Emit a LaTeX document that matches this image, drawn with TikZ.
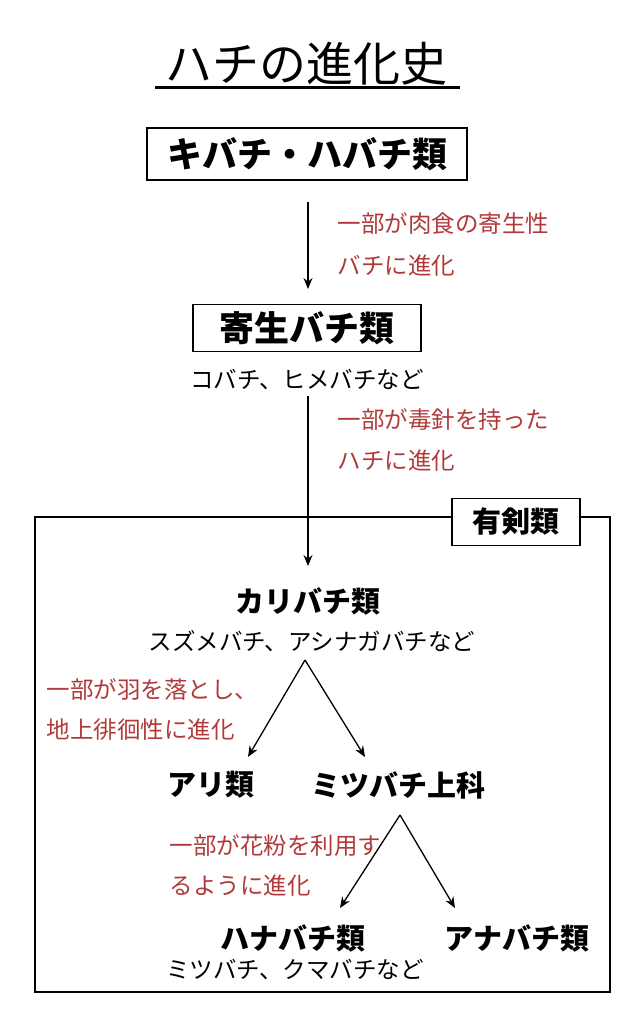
\documentclass[tikz,border=0pt]{standalone}
\usepackage{fontspec}
\setmainfont{Noto Sans CJK JP}
\usetikzlibrary{arrows.meta}
\definecolor{rd}{HTML}{B03A3A}
\begin{document}
\begin{tikzpicture}[x=1pt,y=-1pt,
  boxed/.style={draw,line width=1.3pt,fill=white,font=\bfseries\fontsize{35}{40}\selectfont,inner sep=0pt},
  grp/.style={font=\bfseries\fontsize{29}{33}\selectfont},
  sub/.style={font=\fontsize{23.5}{27}\selectfont},
  note/.style={font=\fontsize{23.5}{27}\selectfont,text=rd,anchor=west},
  arr/.style={-{Stealth[length=11pt,width=9pt]},line width=1.3pt}]
\useasboundingbox (0,0) rectangle (642,1024);
\node (title) at (306,64) {\fontsize{47}{52}\selectfont ハチの進化史};
\draw[line width=3pt] (155,88) -- (460,88);
\node[boxed,minimum width=320pt,minimum height=52pt] (kiba) at (307,154) {キバチ・ハバチ類};
\coordinate (a1s) at (308,202); \coordinate (a1e) at (308,289);
\draw[arr] (a1s) -- (a1e);
\node[note] (n1) at (334,224) {一部が肉食の寄生性};
\node[note] (n2) at (334,266) {バチに進化};
\node[boxed,minimum width=228pt,minimum height=47pt] (kise) at (307,328) {寄生バチ類};
\node[sub] (kisesub) at (307,380) {コバチ、ヒメバチなど};
\coordinate (a2s) at (308,396); \coordinate (a2e) at (308,566);
\draw[arr] (a2s) -- (a2e);
\node[note] (n3) at (334,420) {一部が毒針を持った};
\node[note] (n4) at (334,461) {ハチに進化};
\draw[line width=1.3pt] (35,517) rectangle (610,992);
\node[boxed,minimum width=128pt,minimum height=47pt,font=\bfseries\fontsize{29}{33}\selectfont] (yuken) at (516,522) {有剣類};
\node[grp] (kari) at (308,601) {カリバチ類};
\node[sub] (karisub) at (312,641) {スズメバチ、アシナガバチなど};
\coordinate (f1) at (305,660);
\node[grp] (ari) at (211,785) {アリ類};
\node[grp] (mitsu) at (398,785) {ミツバチ上科};
\draw[arr] (f1) -- (248,757);
\draw[arr] (f1) -- (365,757);
\node[note] (n5) at (43,690) {一部が羽を落とし、};
\node[note] (n6) at (43,730) {地上徘徊性に進化};
\coordinate (f2) at (400,815);
\draw[arr] (f2) -- (340,908);
\draw[arr] (f2) -- (455,908);
\node[note] (n7) at (166,846) {一部が花粉を利用す};
\node[note] (n8) at (166,886) {るように進化};
\node[grp] (hana) at (293,938) {ハナバチ類};
\node[grp] (ana) at (517,938) {アナバチ類};
\node[sub] (hanasub) at (295,970) {ミツバチ、クマバチなど};
\end{tikzpicture}
\end{document}
